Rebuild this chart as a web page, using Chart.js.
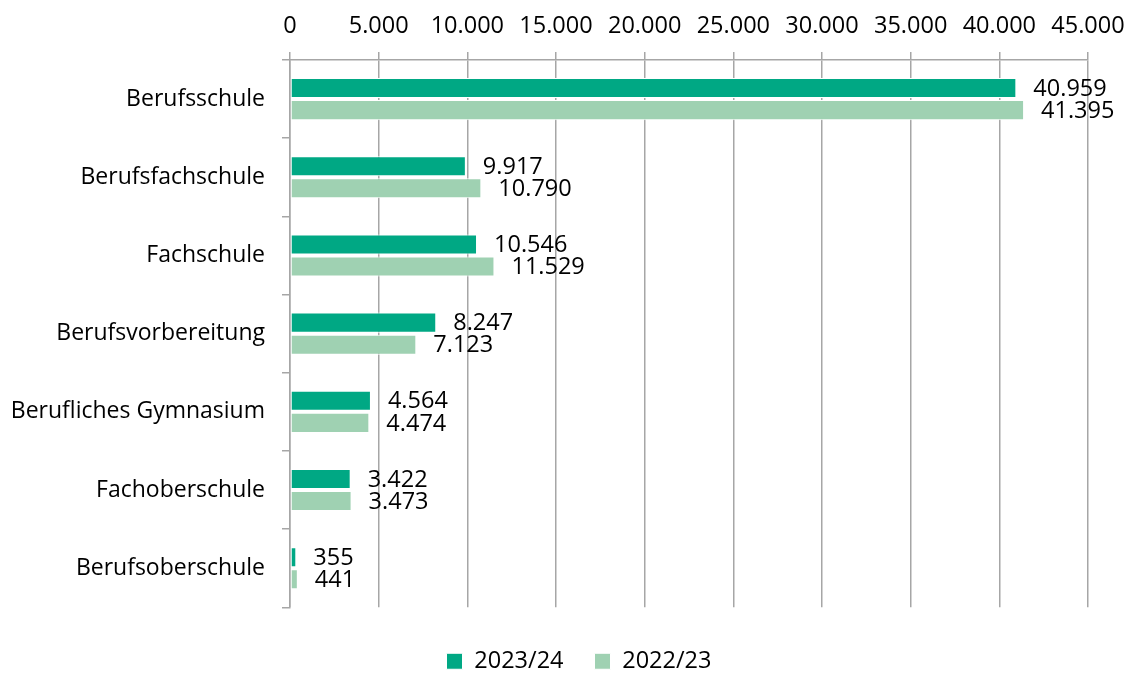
<!DOCTYPE html>
<html lang="de">
<head>
<meta charset="utf-8">
<title>Schülerzahlen berufliche Schulen</title>
<script src="https://cdn.jsdelivr.net/npm/chart.js@4.4.1/dist/chart.umd.min.js"></script>
<style>
    html, body {margin: 0; padding: 0; background: #fff;}
    #wrap {width: 1130px; height: 673px;}
</style>
</head>
<body>
<div id="wrap"><canvas id="chart"></canvas></div>
<script>
const schularten = ["Berufsschule", "Berufsfachschule", "Fachschule", "Berufsvorbereitung",
    "Berufliches Gymnasium", "Fachoberschule", "Berufsoberschule"];
const werte2324 = [40959, 9917, 10546, 8247, 4564, 3422, 355];
const werte2223 = [41395, 10790, 11529, 7123, 4474, 3473, 441];
const xTicks = [0, 5000, 10000, 15000, 20000, 25000, 30000, 35000, 40000, 45000];

const FONT = "'Open Sans', sans-serif";
const fmt = v => v.toLocaleString('de-DE');

// Zahlen rechts neben die Balken schreiben
const wertLabels = {
    id: 'wertLabels',
    afterDatasetsDraw(chart) {
        const ctx = chart.ctx;
        ctx.save();
        ctx.font = "23.5px " + FONT;
        ctx.fillStyle = '#000';
        ctx.textAlign = 'left';
        ctx.textBaseline = 'middle';
        chart.data.datasets.forEach((ds, i) => {
            chart.getDatasetMeta(i).data.forEach((bar, j) => {
                ctx.fillText(fmt(ds.data[j]), bar.x + 17, bar.y + 1);
            });
        });
        ctx.restore();
    }
};

// Legende etwas nach rechts schieben
const legendeVersatz = {
    id: 'legendeVersatz',
    afterLayout(chart) {
        if (chart.legend) {
            chart.legend.left += 35;
            chart.legend.right += 35;
        }
    }
};

new Chart(document.getElementById('chart'), {
    type: 'bar',
    data: {
        labels: schularten,
        datasets: [
            {
                label: '2023/24',
                data: werte2324,
                backgroundColor: '#00a884',
                borderColor: '#ffffff',
                borderWidth: 1,
                borderSkipped: false
            },
            {
                label: '2022/23',
                data: werte2223,
                backgroundColor: '#9fd1b2',
                borderColor: '#ffffff',
                borderWidth: 1,
                borderSkipped: false
            }
        ]
    },
    options: {
        indexAxis: 'y',
        responsive: true,
        maintainAspectRatio: false,
        animation: false,
        categoryPercentage: 0.564,
        barPercentage: 0.91,
        layout: {padding: {top: 0, right: 42, bottom: -10, left: 0}},
        scales: {
            x: {
                position: 'top',
                min: 0,
                max: 45000,
                afterBuildTicks(axis) {
                    axis.ticks = xTicks.map(v => ({value: v}));
                },
                afterFit(axis) {
                    axis.height = 60;
                    axis.paddingLeft = 0;
                    axis.paddingRight = 0;
                },
                ticks: {
                    callback: v => fmt(v),
                    color: '#000',
                    font: {family: FONT, size: 23.5},
                    padding: 12,
                    maxRotation: 0
                },
                grid: {
                    color: '#a6a6a6',
                    lineWidth: 1.5,
                    tickLength: 8
                },
                border: {color: '#a6a6a6', width: 1.5}
            },
            y: {
                afterFit(axis) {
                    axis.width = 290;
                },
                ticks: {
                    color: '#000',
                    font: {family: FONT, size: 23},
                    padding: 17
                },
                grid: {
                    offset: true,
                    drawOnChartArea: false,
                    color: '#a6a6a6',
                    lineWidth: 1.5,
                    tickLength: 8
                },
                border: {color: '#a6a6a6', width: 1.5}
            }
        },
        plugins: {
            legend: {
                position: 'bottom',
                title: {
                    display: true,
                    text: ' ',
                    font: {size: 1},
                    padding: {top: 10, bottom: 0}
                },
                labels: {
                    color: '#000',
                    font: {family: FONT, size: 23.5},
                    boxWidth: 16,
                    boxHeight: 16,
                    padding: 31
                }
            },
            tooltip: {enabled: false}
        }
    },
    plugins: [wertLabels, legendeVersatz]
});
</script>
</body>
</html>
